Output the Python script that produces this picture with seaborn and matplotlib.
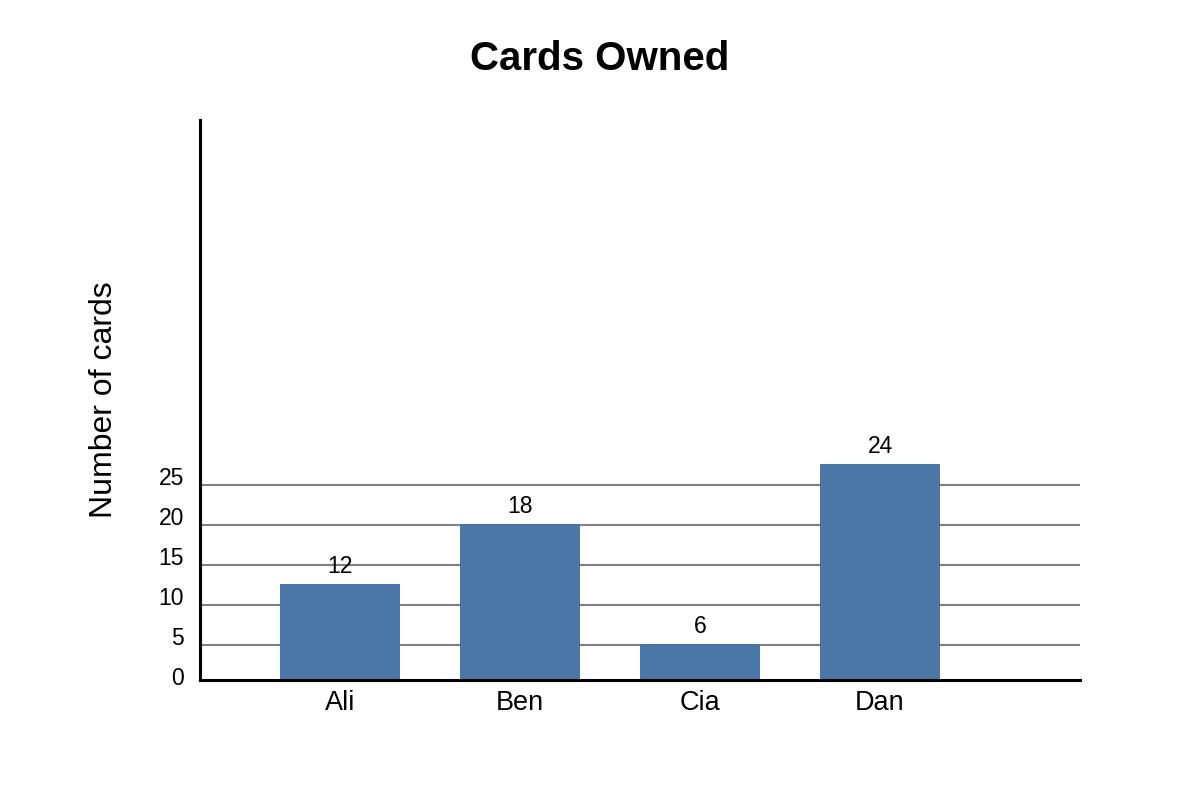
import matplotlib
matplotlib.use("Agg")
import matplotlib.pyplot as plt
import seaborn as sns
import pandas as pd

# data
players = ["Ali", "Ben", "Cia", "Dan"]
cards = [12, 18, 6, 24]
scale_labels = [0, 5, 10, 15, 20, 25]

sns.set_style("white")
plt.rcParams["font.family"] = ["Liberation Sans", "DejaVu Sans"]
plt.rcParams["text.color"] = "black"
plt.rcParams["axes.labelcolor"] = "black"
plt.rcParams["xtick.color"] = "black"

df = pd.DataFrame({"player": players, "cards": cards})

fig = plt.figure(figsize=(12, 8), dpi=100)
ax = fig.add_axes([200 / 1200, 120 / 800, 880 / 1200, 560 / 800])

sns.barplot(data=df, x="player", y="cards", color="#4a77a8", saturation=1,
            width=0.667, linewidth=0, ax=ax, zorder=3)

# the printed scale does not match the bars: its steps are 0.8 bar units apart
def scale_pos(v):
    return 1.9 + 0.8 * v

for v in scale_labels[1:]:
    ax.axhline(scale_pos(v), color="#808080", lw=1.5, zorder=1)

ax.set_ylim(2.4, 58.4)
ax.set_xlim(-0.778, 4.111)
ax.set_yticks([])
for v in scale_labels:
    ax.text(-0.018, scale_pos(v), str(v), transform=ax.get_yaxis_transform(),
            ha="right", va="baseline", fontsize=16.5, color="black")

ax.bar_label(ax.containers[0], labels=[str(c) for c in cards],
             padding=4, fontsize=16.5, color="black")

ax.tick_params(axis="x", length=0, pad=7, labelsize=19.5, labelcolor="black")
ax.set_xlabel("")
ax.set_ylabel("Number of cards", fontsize=23, va="center", color="black")
ax.yaxis.set_label_coords(-0.109, 0.5)

for s in ["top", "right"]:
    ax.spines[s].set_visible(False)
for s in ["left", "bottom"]:
    ax.spines[s].set_color("black")
    ax.spines[s].set_linewidth(2.2)
    ax.spines[s].set_zorder(4)

fig.text(0.5, 1 - 70 / 800, "Cards Owned", ha="center", va="baseline",
         fontsize=29, fontweight="bold", color="black")

fig.savefig("out.png", dpi=100, facecolor="white")
